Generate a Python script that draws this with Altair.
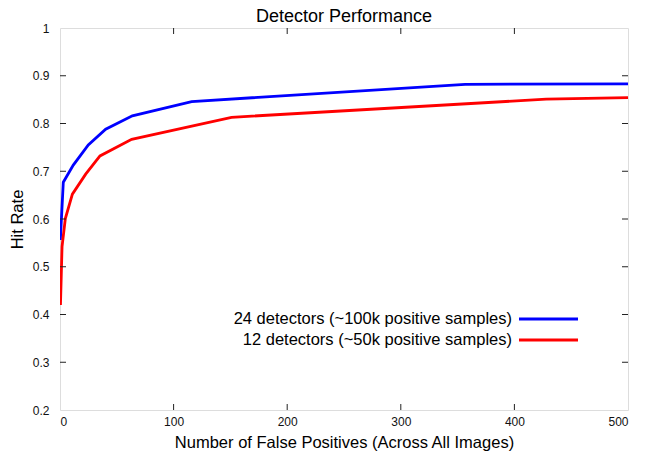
import altair as alt
import pandas as pd

# ---- data ----
chart_title = "Detector Performance"
series_names = ["24 detectors (~100k positive samples)", "12 detectors (~50k positive samples)"]
series_colors = ["#0000ff", "#ff0000"]

blue_x = [0.3, 2.9, 11.7, 24.9, 40.2, 63.7, 115.9, 356.6, 500]
blue_y = [0.556, 0.677, 0.713, 0.755, 0.788, 0.816, 0.846, 0.882, 0.883]

red_x = [0.4, 1.8, 4.7, 10.9, 22.6, 35.2, 63.1, 151, 428, 500]
red_y = [0.42, 0.542, 0.601, 0.652, 0.694, 0.732, 0.767, 0.813, 0.851, 0.854]

x_ticks = [0, 100, 200, 300, 400, 500]
y_ticks = [0.2, 0.3, 0.4, 0.5, 0.6, 0.7, 0.8, 0.9, 1.0]

W, H = 568, 382
FONT = "Liberation Sans"
TICK = 6
BIG = 16.5

rows = []
for xs, ys, name in [(blue_x, blue_y, series_names[0]), (red_x, red_y, series_names[1])]:
    for xv, yv in zip(xs, ys):
        rows.append({"x": xv, "y": yv, "series": name})
df = pd.DataFrame(rows)

xscale = alt.Scale(domain=[0, 500], nice=False)
yscale = alt.Scale(domain=[0.2, 1.0], nice=False)

lines = alt.Chart(df).mark_line(strokeWidth=2.8, clip=True).encode(
    x=alt.X("x:Q", scale=xscale,
            axis=alt.Axis(values=x_ticks, ticks=False, domain=False, grid=False,
                          labelPadding=6, labelFontSize=12, labelFont=FONT, labelColor="#111",
                          title="Number of False Positives (Across All Images)",
                          titleFont=FONT, titleFontSize=BIG, titleFontWeight="normal",
                          titleColor="#000", titlePadding=7)),
    y=alt.Y("y:Q", scale=yscale,
            axis=alt.Axis(values=y_ticks, format=".1~f", ticks=False, domain=False, grid=False,
                          labelPadding=11, labelFontSize=12, labelFont=FONT, labelColor="#111",
                          title="Hit Rate", titleFont=FONT, titleFontSize=BIG,
                          titleFontWeight="normal", titleColor="#000", titlePadding=7)),
    color=alt.Color("series:N", scale=alt.Scale(domain=series_names, range=series_colors), legend=None),
    detail="series:N",
)

xt = pd.DataFrame({"t": x_ticks[1:-1]})
yt = pd.DataFrame({"t": y_ticks[1:-1]})
tick_style = dict(color="#222", strokeWidth=1)
bottom_ticks = alt.Chart(xt).mark_rule(**tick_style).encode(
    x=alt.X("t:Q", scale=xscale), y=alt.value(H), y2=alt.value(H - TICK))
top_ticks = alt.Chart(xt).mark_rule(**tick_style).encode(
    x=alt.X("t:Q", scale=xscale), y=alt.value(0), y2=alt.value(TICK))
left_ticks = alt.Chart(yt).mark_rule(**tick_style).encode(
    y=alt.Y("t:Q", scale=yscale), x=alt.value(0), x2=alt.value(TICK))
right_ticks = alt.Chart(yt).mark_rule(**tick_style).encode(
    y=alt.Y("t:Q", scale=yscale), x=alt.value(W), x2=alt.value(W - TICK))

title_layer = alt.Chart(pd.DataFrame({"label": [chart_title]})).mark_text(
    align="center", baseline="alphabetic", font=FONT, fontSize=18, color="#000"
).encode(text="label:N", x=alt.value(W / 2), y=alt.value(-6))

legend_layers = []
leg_y = [291, 312]
for name, col, ly in zip(series_names, series_colors, leg_y):
    ld = pd.DataFrame({"label": [name]})
    legend_layers.append(
        alt.Chart(ld).mark_text(align="right", baseline="middle", font=FONT, fontSize=BIG, color="#000")
        .encode(text="label:N", x=alt.value(452), y=alt.value(ly))
    )
    legend_layers.append(
        alt.Chart(ld).mark_rule(color=col, strokeWidth=3)
        .encode(x=alt.value(459), x2=alt.value(518), y=alt.value(ly))
    )

chart = alt.layer(lines, bottom_ticks, top_ticks, left_ticks, right_ticks, title_layer,
                  *legend_layers).properties(
    width=W, height=H,
    autosize=alt.AutoSizeParams(type="none"),
    padding={"left": 52, "top": 20, "right": 15, "bottom": 46},
).configure_view(stroke="#222", strokeWidth=1.2).configure(background="white")

chart.save("out.html", embed_options={"renderer": "svg", "actions": False})
